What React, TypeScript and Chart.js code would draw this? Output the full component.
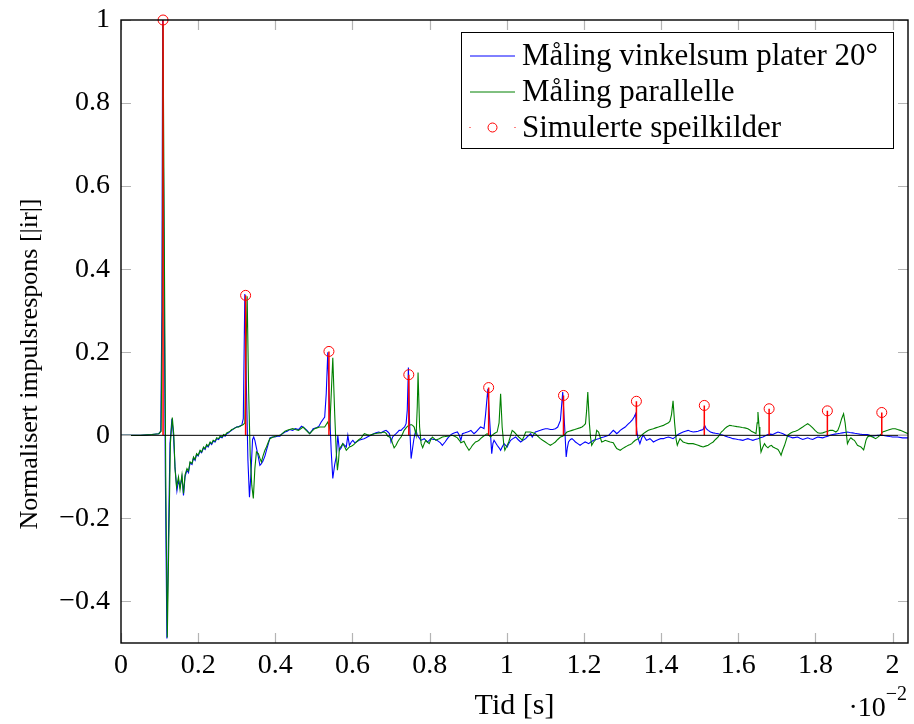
import React, { useEffect, useRef } from "react";
import { Chart, registerables } from "chart.js";

Chart.register(...registerables);

// ---------- data ----------
const xTicks = [0, 0.2, 0.4, 0.6, 0.8, 1, 1.2, 1.4, 1.6, 1.8, 2];
const yTicks = [-0.4, -0.2, 0, 0.2, 0.4, 0.6, 0.8, 1];
const xMin = 0;
const xMax = 2.04;
const yMin = -0.5;
const yMax = 1;

const seriesLabels = [
  "Måling vinkelsum plater 20°",
  "Måling parallelle",
  "Simulerte speilkilder",
];
const xTitle = "Tid [s]";
const yTitle = "Normalisert impulsrespons [|ir|]";
const xExponent = "−2";

// simulated image sources (time ·10^-2 s, amplitude)
const stemTimes = [0.109, 0.323, 0.539, 0.746, 0.953, 1.147, 1.336, 1.512, 1.68, 1.831, 1.972];
const stemValues = [1.0, 0.337, 0.202, 0.146, 0.115, 0.096, 0.082, 0.072, 0.064, 0.059, 0.055];

// measurement, 20° plates [time, amplitude]
const blueSeries: [number, number][] = [
  [0, 0], [0.05, 0], [0.08, 0.002], [0.098, 0.004], [0.103, 0.01], [0.106, 0.3], [0.108, 1.0],
  [0.111, 0.5], [0.115, -0.1], [0.119, -0.489], [0.123, -0.25], [0.127, -0.02], [0.132, 0.04],
  [0.136, 0.0], [0.14, -0.076], [0.145, -0.133], [0.149, -0.108], [0.153, -0.125], [0.158, -0.1],
  [0.162, -0.145], [0.166, -0.1], [0.171, -0.084], [0.175, -0.09], [0.179, -0.066], [0.184, -0.07],
  [0.188, -0.054], [0.192, -0.06], [0.196, -0.046], [0.2, -0.05], [0.205, -0.038], [0.209, -0.042],
  [0.214, -0.03], [0.218, -0.034], [0.222, -0.024], [0.226, -0.028], [0.231, -0.018], [0.235, -0.022],
  [0.239, -0.014], [0.244, -0.016], [0.248, -0.008], [0.253, -0.01], [0.257, -0.004], [0.262, -0.006],
  [0.266, 0.0], [0.27, -0.002], [0.274, 0.004], [0.279, 0.006], [0.283, 0.01], [0.287, 0.012],
  [0.292, 0.016], [0.296, 0.018], [0.3, 0.02], [0.305, 0.021], [0.309, 0.023], [0.313, 0.024],
  [0.317, 0.04], [0.321, 0.34], [0.325, 0.12], [0.329, -0.06], [0.333, -0.149], [0.337, -0.09],
  [0.341, -0.01], [0.344, -0.004], [0.347, -0.012], [0.351, -0.03], [0.356, -0.052], [0.36, -0.072],
  [0.364, -0.068], [0.368, -0.062], [0.373, -0.05], [0.377, -0.036], [0.382, -0.02], [0.386, -0.006],
  [0.392, -0.004], [0.399, -0.004], [0.405, -0.002], [0.412, -0.002], [0.418, 0.004], [0.425, 0.008],
  [0.431, 0.01], [0.437, 0.014], [0.445, 0.012], [0.452, 0.016], [0.46, 0.014], [0.468, 0.022],
  [0.475, 0.018], [0.482, 0.012], [0.489, 0.004], [0.494, 0.01], [0.498, 0.016], [0.506, 0.018],
  [0.513, 0.022], [0.519, 0.032], [0.528, 0.044], [0.532, 0.1], [0.536, 0.2], [0.541, 0.05],
  [0.545, -0.04], [0.549, -0.104], [0.554, -0.07], [0.558, -0.052], [0.562, 0.0], [0.566, -0.036],
  [0.571, -0.03], [0.575, -0.02], [0.58, -0.024], [0.584, -0.028], [0.588, 0.0], [0.592, -0.024],
  [0.597, -0.016], [0.601, -0.012], [0.606, -0.018], [0.61, -0.016], [0.617, -0.012], [0.623, -0.01],
  [0.63, -0.008], [0.635, -0.006], [0.642, -0.002], [0.648, 0.0], [0.655, 0.004], [0.661, 0.006],
  [0.668, 0.008], [0.674, 0.006], [0.681, 0.01], [0.687, 0.012], [0.692, 0.008], [0.696, 0.004],
  [0.7, -0.016], [0.704, -0.004], [0.708, 0.0], [0.713, 0.004], [0.717, 0.008], [0.721, 0.012],
  [0.726, 0.012], [0.73, 0.016], [0.735, 0.02], [0.739, 0.028], [0.742, 0.06], [0.745, 0.163],
  [0.748, 0.03], [0.752, -0.056], [0.756, -0.03], [0.759, -0.01], [0.762, 0.004], [0.765, 0.012],
  [0.768, 0.0], [0.773, -0.006], [0.777, -0.012], [0.782, -0.01], [0.786, -0.008], [0.79, -0.012],
  [0.794, -0.016], [0.799, -0.012], [0.803, -0.008], [0.81, -0.01], [0.816, -0.01], [0.822, -0.014],
  [0.828, -0.018], [0.833, -0.024], [0.84, -0.016], [0.846, -0.008], [0.853, 0.0], [0.859, 0.004],
  [0.865, 0.006], [0.872, 0.008], [0.877, 0.0], [0.881, -0.012], [0.885, 0.004], [0.892, 0.006],
  [0.898, 0.008], [0.903, 0.01], [0.907, 0.012], [0.911, 0.008], [0.915, 0.004], [0.92, 0.008],
  [0.924, 0.012], [0.928, 0.016], [0.932, 0.02], [0.937, 0.018], [0.941, 0.016], [0.945, 0.05],
  [0.951, 0.112], [0.956, 0.03], [0.961, -0.044], [0.964, -0.02], [0.967, -0.012], [0.971, -0.018],
  [0.975, -0.024], [0.98, -0.03], [0.984, -0.036], [0.988, -0.028], [0.993, -0.02], [0.997, -0.024],
  [1.001, -0.028], [1.005, -0.02], [1.01, -0.012], [1.016, -0.008], [1.023, -0.004], [1.029, -0.01],
  [1.036, -0.016], [1.042, -0.012], [1.049, -0.008], [1.053, -0.004], [1.057, 0.0], [1.062, 0.004],
  [1.066, -0.004], [1.07, 0.002], [1.074, 0.008], [1.08, 0.01], [1.087, 0.012], [1.093, 0.014],
  [1.1, 0.016], [1.106, 0.016], [1.113, 0.014], [1.119, 0.014], [1.126, 0.016], [1.132, 0.02],
  [1.139, 0.036], [1.145, 0.104], [1.15, 0.02], [1.154, -0.052], [1.157, -0.03], [1.16, -0.016],
  [1.165, -0.01], [1.169, -0.008], [1.174, -0.012], [1.178, -0.016], [1.184, -0.02], [1.19, -0.024],
  [1.196, -0.02], [1.203, -0.016], [1.208, -0.018], [1.212, -0.02], [1.218, -0.016], [1.225, -0.012],
  [1.231, -0.01], [1.238, -0.008], [1.244, -0.006], [1.251, -0.004], [1.257, -0.002], [1.264, 0.0],
  [1.27, 0.006], [1.276, 0.012], [1.281, 0.008], [1.285, 0.004], [1.29, 0.008], [1.294, 0.012],
  [1.3, 0.016], [1.307, 0.02], [1.313, 0.026], [1.32, 0.032], [1.326, 0.038], [1.33, 0.044],
  [1.334, 0.052], [1.337, 0.01], [1.34, -0.006], [1.345, -0.02], [1.35, -0.006], [1.354, 0.0],
  [1.358, -0.006], [1.362, -0.012], [1.367, -0.01], [1.371, -0.008], [1.376, -0.012], [1.38, -0.016],
  [1.386, -0.013], [1.393, -0.01], [1.399, -0.008], [1.406, -0.008], [1.412, -0.006], [1.419, -0.004],
  [1.425, -0.006], [1.431, -0.008], [1.438, -0.003], [1.444, 0.002], [1.45, 0.005], [1.457, 0.008],
  [1.463, 0.01], [1.47, 0.012], [1.476, 0.01], [1.483, 0.008], [1.49, 0.009], [1.496, 0.01],
  [1.502, 0.012], [1.509, 0.014], [1.513, 0.024], [1.517, 0.016], [1.522, 0.012], [1.528, 0.008],
  [1.535, 0.006], [1.541, 0.005], [1.548, 0.004], [1.554, 0.002], [1.561, 0.0], [1.567, -0.002],
  [1.573, -0.004], [1.58, -0.006], [1.586, -0.008], [1.593, -0.009], [1.599, -0.01], [1.606, -0.011],
  [1.612, -0.012], [1.618, -0.01], [1.625, -0.008], [1.631, -0.01], [1.638, -0.012], [1.644, -0.01],
  [1.651, -0.008], [1.657, -0.006], [1.664, -0.004], [1.67, -0.001], [1.677, 0.002], [1.683, 0.003],
  [1.69, 0.002], [1.696, 0.005], [1.703, 0.008], [1.709, 0.006], [1.716, 0.004], [1.722, 0.001],
  [1.728, -0.002], [1.735, -0.004], [1.741, -0.006], [1.748, -0.005], [1.754, -0.004], [1.76, -0.007],
  [1.767, -0.01], [1.773, -0.008], [1.78, -0.006], [1.786, -0.008], [1.793, -0.01], [1.799, -0.007],
  [1.806, -0.004], [1.812, -0.005], [1.819, -0.006], [1.825, -0.004], [1.832, -0.002], [1.838, 0.0],
  [1.845, 0.002], [1.851, 0.003], [1.857, 0.004], [1.864, 0.005], [1.87, 0.006], [1.876, 0.007],
  [1.883, 0.008], [1.889, 0.007], [1.896, 0.006], [1.902, 0.005], [1.909, 0.004], [1.915, 0.003],
  [1.922, 0.002], [1.928, 0.002], [1.935, 0.002], [1.941, 0.0], [1.948, -0.002], [1.954, -0.001],
  [1.961, 0.0], [1.967, 0.0], [1.974, 0.0], [1.98, -0.001], [1.987, -0.002], [1.993, -0.003],
  [2.0, -0.004], [2.013, -0.004], [2.026, -0.006], [2.04, -0.006],
];

// measurement, parallel plates [time, amplitude]
const greenSeries: [number, number][] = [
  [0, 0], [0.05, 0], [0.08, 0.002], [0.098, 0.004], [0.104, 0.01], [0.107, 0.3], [0.109, 0.99],
  [0.112, 0.5], [0.116, -0.1], [0.12, -0.487], [0.124, -0.25], [0.128, -0.02], [0.133, 0.043],
  [0.137, 0.0], [0.14, -0.08], [0.144, -0.125], [0.149, -0.1], [0.153, -0.13], [0.158, -0.095],
  [0.162, -0.14], [0.166, -0.095], [0.171, -0.08], [0.175, -0.086], [0.179, -0.064], [0.184, -0.068],
  [0.188, -0.052], [0.192, -0.058], [0.196, -0.044], [0.2, -0.048], [0.205, -0.036], [0.209, -0.04],
  [0.214, -0.028], [0.218, -0.032], [0.222, -0.022], [0.226, -0.026], [0.231, -0.016], [0.235, -0.02],
  [0.239, -0.012], [0.244, -0.014], [0.248, -0.006], [0.253, -0.008], [0.257, -0.002], [0.262, -0.004],
  [0.266, 0.002], [0.27, 0.0], [0.274, 0.006], [0.279, 0.008], [0.283, 0.01], [0.287, 0.014],
  [0.292, 0.015], [0.296, 0.018], [0.3, 0.02], [0.305, 0.02], [0.309, 0.022], [0.313, 0.024],
  [0.317, 0.026], [0.321, 0.03], [0.324, 0.2], [0.327, 0.335], [0.331, 0.1], [0.335, -0.05],
  [0.339, -0.12], [0.343, -0.152], [0.347, -0.08], [0.351, -0.04], [0.356, -0.044], [0.36, -0.055],
  [0.364, -0.064], [0.368, -0.05], [0.373, -0.036], [0.377, -0.028], [0.382, -0.016], [0.386, -0.008],
  [0.392, -0.005], [0.399, -0.002], [0.405, -0.001], [0.412, 0.0], [0.418, 0.004], [0.425, 0.01],
  [0.431, 0.012], [0.437, 0.014], [0.445, 0.016], [0.452, 0.014], [0.46, 0.012], [0.466, 0.016],
  [0.472, 0.02], [0.48, 0.012], [0.489, 0.004], [0.495, 0.01], [0.502, 0.016], [0.508, 0.018],
  [0.515, 0.02], [0.521, 0.02], [0.528, 0.02], [0.532, 0.026], [0.536, 0.032], [0.541, 0.016],
  [0.545, 0.1], [0.549, 0.187], [0.554, 0.05], [0.558, -0.04], [0.561, -0.084], [0.564, -0.06],
  [0.566, -0.032], [0.571, -0.026], [0.575, -0.02], [0.58, -0.028], [0.584, -0.036], [0.588, -0.032],
  [0.592, -0.028], [0.597, -0.026], [0.601, -0.024], [0.606, -0.02], [0.61, -0.016], [0.617, -0.01],
  [0.623, -0.006], [0.627, 0.0], [0.631, 0.004], [0.637, 0.002], [0.644, 0.0], [0.65, 0.002],
  [0.657, 0.004], [0.664, 0.005], [0.67, 0.006], [0.677, 0.007], [0.683, 0.008], [0.688, 0.004],
  [0.691, -0.002], [0.696, -0.004], [0.7, -0.008], [0.704, -0.02], [0.708, -0.03], [0.713, -0.024],
  [0.717, -0.016], [0.721, -0.01], [0.726, -0.004], [0.73, 0.004], [0.734, 0.012], [0.739, 0.018],
  [0.743, 0.022], [0.748, 0.024], [0.752, 0.026], [0.756, 0.024], [0.76, 0.02], [0.765, 0.0],
  [0.768, 0.07], [0.77, 0.151], [0.774, 0.02], [0.778, -0.02], [0.782, -0.03], [0.786, -0.02],
  [0.79, -0.012], [0.794, -0.016], [0.799, -0.02], [0.803, -0.01], [0.807, -0.004], [0.812, -0.008],
  [0.816, -0.012], [0.82, -0.01], [0.825, -0.008], [0.833, -0.004], [0.84, -0.003], [0.846, -0.002],
  [0.853, -0.001], [0.859, 0.0], [0.866, -0.003], [0.872, -0.006], [0.877, -0.012], [0.881, -0.018],
  [0.885, -0.016], [0.889, -0.014], [0.894, -0.024], [0.898, -0.03], [0.902, -0.036], [0.907, -0.03],
  [0.911, -0.024], [0.915, -0.02], [0.919, -0.016], [0.924, -0.014], [0.928, -0.012], [0.932, -0.008],
  [0.937, -0.004], [0.943, 0.0], [0.949, 0.004], [0.954, 0.0], [0.958, -0.004], [0.962, 0.0],
  [0.967, 0.004], [0.971, 0.006], [0.975, 0.008], [0.98, 0.03], [0.984, 0.1], [0.988, 0.02],
  [0.992, -0.02], [0.995, -0.036], [1.0, -0.026], [1.005, -0.016], [1.01, 0.0], [1.014, 0.012],
  [1.019, 0.008], [1.023, 0.004], [1.027, 0.0], [1.031, -0.004], [1.036, -0.008], [1.04, -0.012],
  [1.044, -0.004], [1.049, 0.008], [1.055, 0.008], [1.061, 0.008], [1.068, 0.006], [1.074, 0.004],
  [1.08, -0.002], [1.087, -0.008], [1.093, -0.012], [1.1, -0.016], [1.106, -0.02], [1.113, -0.024],
  [1.12, -0.02], [1.126, -0.016], [1.132, -0.01], [1.139, -0.004], [1.145, -0.002], [1.15, 0.002],
  [1.156, 0.008], [1.162, 0.01], [1.169, 0.012], [1.176, 0.014], [1.182, 0.016], [1.189, 0.018],
  [1.195, 0.02], [1.2, 0.024], [1.204, 0.028], [1.207, 0.06], [1.21, 0.104], [1.214, 0.03],
  [1.217, -0.004], [1.22, -0.024], [1.225, -0.016], [1.229, -0.012], [1.233, 0.012], [1.238, 0.008],
  [1.242, -0.004], [1.246, -0.016], [1.251, -0.014], [1.255, -0.012], [1.262, -0.014], [1.268, -0.016],
  [1.276, -0.018], [1.281, -0.026], [1.285, -0.032], [1.29, -0.034], [1.294, -0.036], [1.3, -0.032],
  [1.307, -0.028], [1.311, -0.026], [1.315, -0.024], [1.32, -0.022], [1.324, -0.02], [1.328, -0.016],
  [1.333, -0.012], [1.337, -0.01], [1.341, -0.008], [1.347, -0.002], [1.354, 0.004], [1.36, 0.008],
  [1.367, 0.012], [1.373, 0.014], [1.38, 0.016], [1.386, 0.018], [1.393, 0.02], [1.399, 0.022],
  [1.406, 0.024], [1.41, 0.026], [1.414, 0.028], [1.419, 0.03], [1.423, 0.034], [1.427, 0.05],
  [1.431, 0.083], [1.435, 0.03], [1.439, -0.01], [1.442, -0.024], [1.446, -0.014], [1.449, -0.008],
  [1.453, -0.012], [1.457, -0.016], [1.463, -0.018], [1.47, -0.02], [1.476, -0.02], [1.483, -0.02],
  [1.49, -0.022], [1.496, -0.024], [1.502, -0.026], [1.509, -0.028], [1.515, -0.026], [1.522, -0.024],
  [1.528, -0.02], [1.535, -0.016], [1.541, -0.01], [1.548, -0.004], [1.552, 0.002], [1.556, 0.008],
  [1.561, 0.012], [1.565, 0.016], [1.57, 0.02], [1.578, 0.024], [1.584, 0.023], [1.591, 0.022],
  [1.597, 0.021], [1.604, 0.02], [1.61, 0.019], [1.617, 0.018], [1.625, 0.016], [1.63, 0.013],
  [1.634, 0.01], [1.638, 0.008], [1.642, 0.006], [1.646, 0.004], [1.649, 0.03], [1.651, 0.056],
  [1.654, 0.02], [1.656, -0.01], [1.659, -0.04], [1.663, -0.03], [1.668, -0.02], [1.672, -0.026],
  [1.677, -0.03], [1.681, -0.026], [1.686, -0.024], [1.69, -0.028], [1.694, -0.03], [1.698, -0.032],
  [1.703, -0.034], [1.707, -0.04], [1.711, -0.048], [1.715, -0.036], [1.72, -0.024], [1.724, -0.012],
  [1.728, 0.0], [1.735, 0.005], [1.741, 0.008], [1.748, 0.01], [1.754, 0.012], [1.76, 0.016],
  [1.767, 0.02], [1.773, 0.024], [1.78, 0.028], [1.786, 0.024], [1.793, 0.018], [1.799, 0.012],
  [1.806, 0.006], [1.812, 0.005], [1.819, 0.006], [1.825, 0.008], [1.832, 0.01], [1.838, 0.012],
  [1.845, 0.012], [1.853, 0.008], [1.858, 0.012], [1.863, 0.024], [1.868, 0.04], [1.873, 0.052],
  [1.877, 0.03], [1.88, 0.005], [1.883, -0.02], [1.888, -0.01], [1.892, -0.006], [1.897, -0.01],
  [1.901, -0.012], [1.905, -0.018], [1.909, -0.024], [1.914, -0.026], [1.918, -0.028], [1.922, -0.032],
  [1.925, -0.035], [1.928, -0.024], [1.931, -0.012], [1.935, -0.004], [1.939, -0.002], [1.943, -0.002],
  [1.948, -0.004], [1.952, -0.006], [1.956, -0.008], [1.961, -0.005], [1.965, -0.002], [1.97, 0.003],
  [1.974, 0.008], [1.98, 0.01], [1.987, 0.012], [1.993, 0.014], [2.0, 0.016], [2.007, 0.016],
  [2.013, 0.014], [2.02, 0.012], [2.026, 0.01], [2.033, 0.007], [2.04, 0.004],
];

// ---------- styling ----------
const FONT = "'Liberation Serif', 'Times New Roman', serif";
const BLUE = "#0000ff";
const GREEN = "#008000";
const RED = "#ff0000";
const TICK_GREY = "#b4b4b4";

const fmt = (v: number) => String(Math.round(v * 10) / 10).replace("-", "−");

const framePlugin = {
  id: "pgfFrame",
  afterDatasetsDraw(chart: any) {
    const { ctx, chartArea: a, scales } = chart;
    const xs = scales.x;
    const ys = scales.y;
    ctx.save();
    // zero line
    const y0 = ys.getPixelForValue(0);
    ctx.strokeStyle = "#000";
    ctx.lineWidth = 1;
    ctx.beginPath();
    ctx.moveTo(a.left, y0);
    ctx.lineTo(a.right, y0);
    ctx.stroke();
    // inward tick marks on all four sides
    const tl = 10;
    ctx.strokeStyle = TICK_GREY;
    ctx.lineWidth = 1.2;
    ctx.beginPath();
    xTicks.forEach((v) => {
      const px = Math.round(xs.getPixelForValue(v)) + 0.5;
      ctx.moveTo(px, a.bottom);
      ctx.lineTo(px, a.bottom - tl);
      ctx.moveTo(px, a.top);
      ctx.lineTo(px, a.top + tl);
    });
    yTicks.forEach((v) => {
      const py = Math.round(ys.getPixelForValue(v)) + 0.5;
      ctx.moveTo(a.left, py);
      ctx.lineTo(a.left + tl, py);
      ctx.moveTo(a.right, py);
      ctx.lineTo(a.right - tl, py);
    });
    ctx.stroke();
    // frame
    ctx.strokeStyle = "#000";
    ctx.lineWidth = 1.4;
    ctx.strokeRect(a.left, a.top, a.right - a.left, a.bottom - a.top);
    ctx.restore();
  },
  afterDraw(chart: any) {
    const { ctx, chartArea: a } = chart;
    ctx.save();
    // legend box
    const bw = 432;
    const bh = 116;
    const bx = a.right - 15 - bw;
    const by = a.top + 12.5;
    ctx.fillStyle = "#fff";
    ctx.fillRect(bx, by, bw, bh);
    ctx.strokeStyle = "#000";
    ctx.lineWidth = 1;
    ctx.strokeRect(bx + 0.5, by, bw, bh);
    const rowY = [by + 23.5, by + 59.5, by + 95];
    const lx0 = bx + 9;
    const lx1 = bx + 54;
    ctx.lineWidth = 1;
    [BLUE, GREEN].forEach((c, i) => {
      ctx.strokeStyle = c;
      ctx.beginPath();
      ctx.moveTo(lx0, rowY[i]);
      ctx.lineTo(lx1, rowY[i]);
      ctx.stroke();
    });
    // ycomb style marker
    ctx.strokeStyle = RED;
    ctx.fillStyle = RED;
    ctx.lineWidth = 1;
    ctx.beginPath();
    ctx.arc((lx0 + lx1) / 2, rowY[2], 4.5, 0, Math.PI * 2);
    ctx.stroke();
    ctx.fillRect(lx0 - 0.5, rowY[2] - 0.5, 1, 1);
    ctx.fillRect(lx1 - 0.5, rowY[2] - 0.5, 1, 1);
    ctx.fillStyle = "#000";
    ctx.font = `31px ${FONT}`;
    ctx.textAlign = "left";
    ctx.textBaseline = "middle";
    seriesLabels.forEach((t, i) => ctx.fillText(t, bx + 61, by + 24 + 36 * i));

    // y-axis title
    ctx.save();
    ctx.translate(30, 364);
    ctx.rotate(-Math.PI / 2);
    ctx.font = `26px ${FONT}`;
    ctx.textAlign = "center";
    ctx.textBaseline = "middle";
    ctx.fillText(yTitle, 0, 0);
    ctx.restore();

    // ·10^-2 multiplier
    const mainTxt = "·10";
    ctx.font = `28px ${FONT}`;
    const wMain = ctx.measureText(mainTxt).width;
    ctx.font = `20px ${FONT}`;
    const wSup = ctx.measureText(xExponent).width;
    const x0 = a.right - 1 - wMain - wSup;
    ctx.textAlign = "left";
    ctx.textBaseline = "alphabetic";
    ctx.font = `28px ${FONT}`;
    ctx.fillText(mainTxt, x0, 716);
    ctx.font = `20px ${FONT}`;
    ctx.fillText(xExponent, x0 + wMain, 700);
    ctx.restore();
  },
};

export default function App() {
  const canvasRef = useRef<HTMLCanvasElement | null>(null);

  useEffect(() => {
    if (!canvasRef.current) return;
    const stemData: any[] = [];
    stemTimes.forEach((t, i) => {
      stemData.push({ x: t, y: 0 }, { x: t, y: stemValues[i] }, { x: t, y: null });
    });
    const chart = new Chart(canvasRef.current, {
      type: "line",
      data: {
        datasets: [
          {
            label: "stems",
            data: stemData,
            borderColor: RED,
            borderWidth: 1.5,
            pointRadius: 0,
            spanGaps: false,
            order: 0,
          },
          {
            label: seriesLabels[2],
            type: "scatter",
            data: stemTimes.map((t, i) => ({ x: t, y: stemValues[i] })),
            pointStyle: "circle",
            pointRadius: 5,
            pointBorderWidth: 1,
            borderColor: RED,
            backgroundColor: "rgba(0,0,0,0)",
            showLine: false,
            clip: false,
            order: 0,
          },
          {
            label: seriesLabels[1],
            data: greenSeries.map(([t, v]) => ({ x: t, y: v })),
            borderColor: GREEN,
            borderWidth: 1.1,
            pointRadius: 0,
            tension: 0,
            order: 1,
          },
          {
            label: seriesLabels[0],
            data: blueSeries.map(([t, v]) => ({ x: t, y: v })),
            borderColor: BLUE,
            borderWidth: 1.1,
            pointRadius: 0,
            tension: 0,
            order: 2,
          },
        ] as any,
      },
      options: {
        responsive: false,
        animation: false,
        devicePixelRatio: 1,
        layout: { padding: { left: 0, right: 4, top: 20, bottom: 0 } },
        plugins: { legend: { display: false }, tooltip: { enabled: false } },
        scales: {
          x: {
            type: "linear",
            min: xMin,
            max: xMax,
            afterBuildTicks: (s: any) => {
              s.ticks = xTicks.map((v) => ({ value: v }));
            },
            afterFit: (s: any) => {
              s.height = 81;
              s.paddingLeft = 0;
              s.paddingRight = 0;
            },
            ticks: {
              callback: (v: any) => fmt(Number(v)),
              font: { family: FONT, size: 28 },
              color: "#000",
              padding: 6,
              maxRotation: 0,
              autoSkip: false,
            },
            grid: { display: false, drawTicks: false },
            border: { display: false },
            title: {
              display: true,
              text: xTitle,
              color: "#000",
              font: { family: FONT, size: 30 },
              padding: { top: 0, bottom: 0 },
            },
          },
          y: {
            type: "linear",
            min: yMin,
            max: yMax,
            afterBuildTicks: (s: any) => {
              s.ticks = yTicks.map((v) => ({ value: v }));
            },
            afterFit: (s: any) => {
              s.width = 121;
              s.paddingTop = 0;
              s.paddingBottom = 0;
            },
            ticks: {
              callback: (v: any) => fmt(Number(v)),
              font: { family: FONT, size: 28 },
              color: "#000",
              padding: 11,
              autoSkip: false,
            },
            grid: { display: false, drawTicks: false },
            border: { display: false },
            title: { display: false },
          },
        },
      } as any,
      plugins: [framePlugin],
    });
    return () => chart.destroy();
  }, []);

  return (
    <div style={{ position: "absolute", left: 0, top: 0, width: 914, height: 724, background: "#fff" }}>
      <canvas ref={canvasRef} width={914} height={724} style={{ display: "block" }} />
    </div>
  );
}
